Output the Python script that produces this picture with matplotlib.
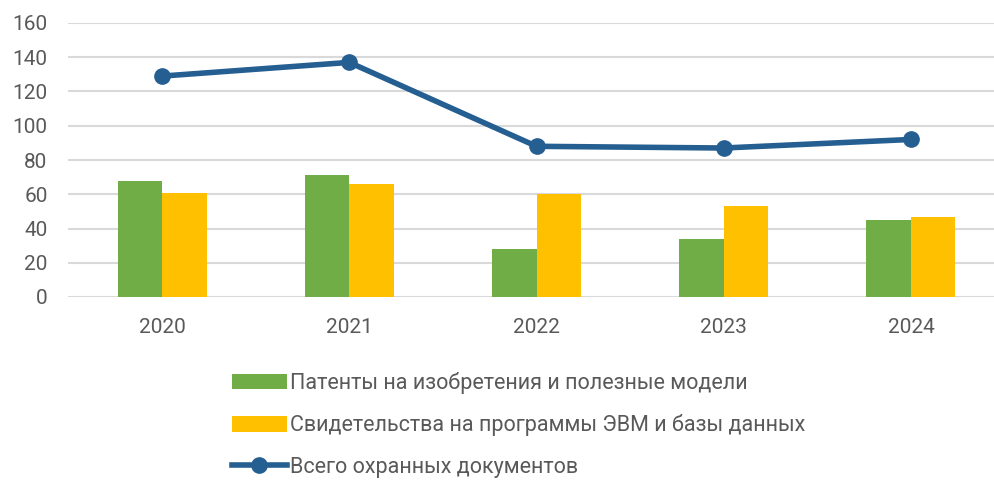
import matplotlib
matplotlib.use("Agg")
import matplotlib.pyplot as plt
import numpy as np
from matplotlib.patches import Patch
from matplotlib.lines import Line2D

years = ["2020", "2021", "2022", "2023", "2024"]
patents = [68, 71, 28, 34, 45]
certificates = [61, 66, 60, 53, 47]
total = [129, 137, 88, 87, 92]
series_names = ["Патенты на изобретения и полезные модели",
                "Свидетельства на программы ЭВМ и базы данных",
                "Всего охранных документов"]
yticks = [0, 20, 40, 60, 80, 100, 120, 140, 160]

GREEN = "#70AD47"
YELLOW = "#FFC000"
BLUE = "#255E91"
TXT = "#595959"
GRID = "#D9D9D9"

plt.rcParams['font.family'] = ['Roboto', 'DejaVu Sans']

fig = plt.figure(figsize=(9.94, 4.82), dpi=100)
W, H = 994, 482
left, right = 68.4, 1004.6
bottom_px, top_px = 297, 23
ax = fig.add_axes([left / W, (H - bottom_px) / H, (right - left) / W, (bottom_px - top_px) / H])

x = np.arange(len(years))
bw = 44.5 / 187.25
ax.bar(x - bw / 2, patents, bw, color=GREEN, zorder=2)
ax.bar(x + bw / 2, certificates, bw, color=YELLOW, zorder=2)
ax.plot(x, total, color=BLUE, lw=4, marker='o', ms=11, zorder=3, solid_capstyle='round')

ax.set_xlim(-0.5, len(years) - 0.5)
ax.set_ylim(0, 160)
ax.set_yticks(yticks)
ax.set_xticks(x)
ax.set_xticklabels(years)
ax.yaxis.grid(True, color=GRID, lw=1.5, zorder=0)
ax.set_axisbelow(True)
for s in ax.spines.values():
    s.set_visible(False)
ax.tick_params(axis='both', length=0, labelsize=15, colors=TXT)
ax.tick_params(axis='y', pad=15)
ax.tick_params(axis='x', pad=15)

handles = [Patch(facecolor=GREEN, edgecolor='none'),
           Patch(facecolor=YELLOW, edgecolor='none'),
           Line2D([0], [0], color=BLUE, lw=4, marker='o', ms=11)]
leg = fig.legend(handles, series_names, loc='upper left',
                 bbox_to_anchor=(232 / W, 1 - 372 / H), frameon=False,
                 fontsize=15.5, handlelength=2.55, handletextpad=0.15,
                 labelspacing=0.95, handleheight=0.75, borderpad=0, borderaxespad=0)
for t in leg.get_texts():
    t.set_color(TXT)

fig.savefig("out.png", dpi=100)
